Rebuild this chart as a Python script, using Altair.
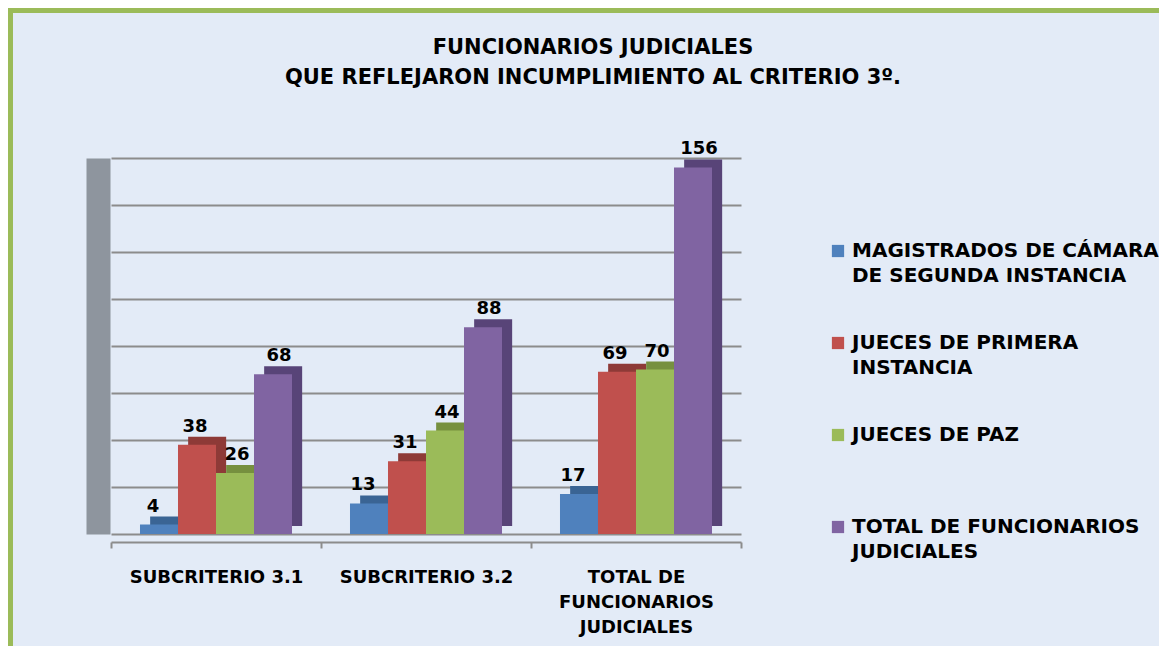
import altair as alt
import pandas as pd

categories = ["SUBCRITERIO 3.1", "SUBCRITERIO 3.2", "TOTAL DE\nFUNCIONARIOS\nJUDICIALES"]
series = [
    "MAGISTRADOS DE CÁMARA\nDE SEGUNDA INSTANCIA",
    "JUECES DE PRIMERA\nINSTANCIA",
    "JUECES DE PAZ\n ",
    "TOTAL DE FUNCIONARIOS\nJUDICIALES",
]
magistrados = [4, 13, 17]
jueces_primera = [38, 31, 69]
jueces_paz = [26, 44, 70]
total_funcionarios = [68, 88, 156]
series_values = [magistrados, jueces_primera, jueces_paz, total_funcionarios]
y_ticks = [0, 20, 40, 60, 80, 100, 120, 140, 160]

colors = ["#4F81BD", "#C0504D", "#9BBB59", "#8064A2"]
side_colors = ["#3A6494", "#8E3A37", "#76903F", "#584478"]
bg = "#E3EBF7"

rows = []
for j, s in enumerate(series):
    for i, c in enumerate(categories):
        rows.append({"cat": c, "serie": s, "valor": series_values[j][i], "lado": side_colors[j]})
df = pd.DataFrame(rows)

W, H = 630, 376
PL, PT = 103, 150
PR = 1151 - PL - W
PB = 638 - PT - H
OUTER = 0.763

base = alt.Chart(df).encode(
    x=alt.X(
        "cat:N",
        sort=categories,
        scale=alt.Scale(paddingInner=0, paddingOuter=0),
        axis=alt.Axis(
            title=None,
            labelAngle=0,
            labelExpr="split(datum.label, '\\n')",
            tickBand="extent",
            labelFont="DejaVu Sans",
            labelFontWeight="bold",
            labelFontSize=18,
            labelColor="black",
            labelLineHeight=25,
            labelPadding=20,
            tickSize=6,
            tickColor="#8C8C8C",
            tickWidth=2,
            domainColor="#8C8C8C",
            domainWidth=2,
            offset=8,
            grid=False,
        ),
    ),
    y=alt.Y(
        "valor:Q",
        scale=alt.Scale(domain=[0, 160]),
        axis=alt.Axis(
            title=None,
            values=y_ticks,
            labels=False,
            ticks=False,
            grid=True,
            gridColor="#8C8C8C",
            gridWidth=2,
            domain=True,
            domainColor="#8E959E",
            domainWidth=24,
            offset=13,
        ),
    ),
)

side = base.mark_bar(yOffset=-8, y2Offset=-2).encode(
    xOffset=alt.XOffset(
        "serie:N", sort=series,
        scale=alt.Scale(paddingOuter=OUTER, paddingInner=0, align=0.675),
    ),
    color=alt.Color("lado:N", scale=None),
)

front = base.mark_bar().encode(
    xOffset=alt.XOffset("serie:N", sort=series, scale=alt.Scale(paddingOuter=OUTER, paddingInner=0)),
    color=alt.Color(
        "serie:N",
        sort=series,
        scale=alt.Scale(domain=series, range=colors),
        legend=alt.Legend(
            title=None,
            orient="none",
            legendX=717,
            legendY=83,
            symbolType="square",
            symbolSize=150,
            symbolStrokeWidth=0,
            labelFont="DejaVu Sans",
            labelFontSize=20,
            labelFontWeight="bold",
            labelColor="black",
            labelLimit=440,
            labelExpr="split(datum.label, '\\n')",
            labelOffset=4,
            rowPadding=47,
            padding=0,
        ),
    ),
)

labels = base.mark_text(
    dy=-9, baseline="bottom", font="DejaVu Sans", fontWeight="bold", fontSize=18, color="black"
).encode(
    xOffset=alt.XOffset("serie:N", sort=series, scale=alt.Scale(type="point", padding=1.263)),
    text="valor:Q",
)

frame = alt.Chart(pd.DataFrame({"k": [0]})).mark_rect(
    fill=None, stroke="#9BBB59", strokeWidth=5
).encode(
    x=alt.value(-PL + 2.5), x2=alt.value(W + PR + 20),
    y=alt.value(-PT + 2.5), y2=alt.value(H + PB + 20),
)

chart = alt.layer(side, front, labels, frame).resolve_scale(
    xOffset="independent"
).properties(
    width=W,
    height=H,
    padding={"left": PL, "top": PT, "right": PR, "bottom": PB},
    autosize=alt.AutoSizeParams(type="none"),
    background=bg,
    title=alt.Title(
        ["FUNCIONARIOS JUDICIALES", "QUE REFLEJARON INCUMPLIMIENTO AL CRITERIO 3º."],
        anchor="middle",
        frame="group",
        dx=167,
        font="DejaVu Sans",
        fontSize=21,
        fontWeight="bold",
        color="black",
        lineHeight=30,
        offset=-80,
    ),
).configure(
    view=alt.ViewConfig(stroke=None),
    style={"guide-label": {"lineHeight": 25}},
)

chart.save("out.html", embed_options={"renderer": "svg", "actions": False})
